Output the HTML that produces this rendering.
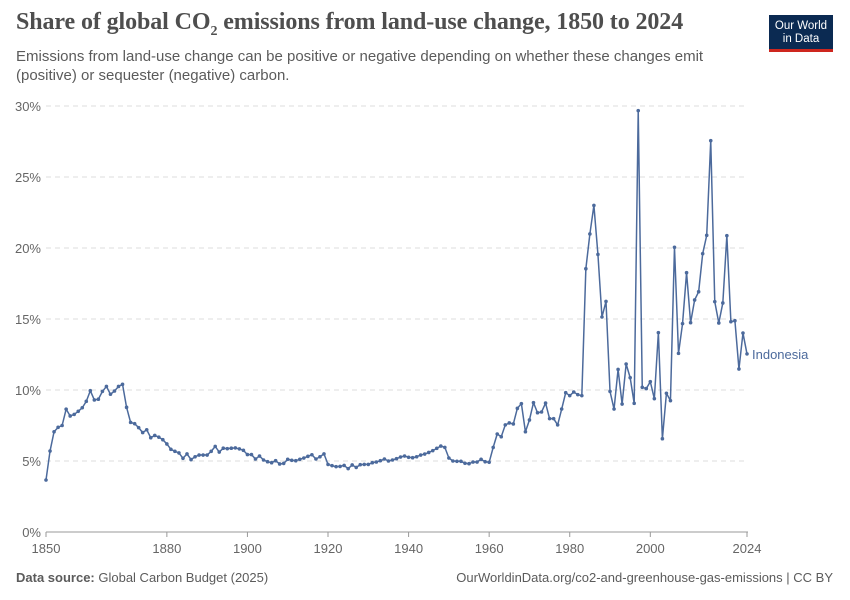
<!DOCTYPE html>
<html><head><meta charset="utf-8">
<style>
body{margin:0;background:#fff;width:850px;height:600px;overflow:hidden;font-family:"Liberation Sans",sans-serif}
#title{position:absolute;left:16px;top:9px;font-family:"Liberation Serif",serif;font-size:24px;color:#4e4e4e;margin:0;font-weight:bold;letter-spacing:-0.1px}
#sub{position:absolute;left:16px;top:47px;width:720px;font-size:15px;line-height:19px;color:#5b5b5b}
#logo{position:absolute;left:769px;top:15px;width:64px;height:37px;background:#0b2a52;color:#fff;font-size:11.5px;line-height:13px;text-align:center;box-sizing:border-box;padding-top:5px;border-bottom:3px solid #ce261e}
#footL{position:absolute;left:16px;top:570px;font-size:13px;color:#5b5b5b}
#footR{position:absolute;right:17px;top:570px;font-size:13px;color:#5b5b5b}
svg{position:absolute;left:0;top:0}
</style></head><body>
<h1 id="title">Share of global CO<sub style="font-size:14px">2</sub> emissions from land-use change, 1850 to 2024</h1>
<div id="sub">Emissions from land-use change can be positive or negative depending on whether these changes emit (positive) or sequester (negative) carbon.</div>
<div id="logo">Our World<br>in Data</div>
<svg id="chart" width="850" height="600"></svg>
<div id="footL"><b>Data source:</b> Global Carbon Budget (2025)</div>
<div id="footR">OurWorldinData.org/co2-and-greenhouse-gas-emissions | CC BY</div>
<script>
const startYear = 1850;
const indonesiaValues = [
3.66,5.7,7.06,7.37,7.5,8.65,8.17,8.28,8.5,8.75,
9.2,9.95,9.3,9.35,9.9,10.25,9.7,9.93,10.25,10.4,
8.78,7.72,7.63,7.35,7.0,7.2,6.64,6.8,6.68,6.5,
6.2,5.82,5.68,5.57,5.19,5.5,5.1,5.3,5.42,5.42,
5.42,5.68,6.03,5.63,5.9,5.87,5.9,5.92,5.85,5.75,
5.45,5.45,5.14,5.35,5.07,4.95,4.88,5.02,4.79,4.83,
5.12,5.05,5.02,5.12,5.21,5.33,5.44,5.14,5.3,5.5,
4.76,4.67,4.6,4.62,4.69,4.46,4.72,4.55,4.74,4.76,
4.76,4.88,4.93,5.02,5.14,5.0,5.07,5.16,5.28,5.35,
5.26,5.23,5.3,5.42,5.49,5.6,5.73,5.89,6.05,5.96,
5.21,5.0,4.98,4.98,4.84,4.81,4.93,4.93,5.12,4.95,
4.91,5.96,6.9,6.71,7.54,7.68,7.61,8.71,9.04,7.06,
7.89,9.11,8.4,8.45,9.08,7.98,7.98,7.54,8.66,9.81,
9.6,9.86,9.67,9.6,18.54,20.99,23.0,19.55,15.14,16.24,
9.9,8.66,11.45,9.01,11.83,10.87,9.06,29.67,10.19,10.1,
10.59,9.39,14.04,6.57,9.77,9.25,20.05,12.58,14.67,18.26,
14.74,16.34,16.92,19.6,20.89,27.56,16.22,14.72,16.13,20.87,
14.81,14.88,11.48,14.01,12.54];
const yTicks = [0,5,10,15,20,25,30];
const xTicks = [1850,1880,1900,1920,1940,1960,1980,2000,2024];

const NS="http://www.w3.org/2000/svg";
const svg=document.getElementById('chart');
const x0=46,x1=747,y0=532,y1=106;
const xs=y=>x0+(y-1850)/(2024-1850)*(x1-x0);
const ys=v=>y0-v/30*(y0-y1);
function mk(t,a){const e=document.createElementNS(NS,t);for(const k in a)e.setAttribute(k,a[k]);svg.appendChild(e);return e;}
yTicks.forEach(v=>{
  const l=mk('line',{x1:46,x2:748,y1:ys(v),y2:ys(v),stroke:v===0?'#999':'#ddd','stroke-dasharray':v===0?'':'5,4'});
  
  
  const t=mk('text',{x:41,y:ys(v)+5,'text-anchor':'end','font-size':13,fill:'#666','font-family':'Liberation Sans, sans-serif'});
  t.textContent=v+'%';
  
  
});
xTicks.forEach(y=>{
  const l=mk('line',{x1:xs(y),x2:xs(y),y1:532,y2:537,stroke:'#999'});
  
  
  const t=mk('text',{x:xs(y),y:553,'text-anchor':'middle','font-size':13,fill:'#666','font-family':'Liberation Sans, sans-serif'});
  t.textContent=y;
  
  
});
const pts=indonesiaValues.map((v,i)=>[xs(startYear+i),ys(v)]);
const p=mk('polyline',{points:pts.map(q=>q.join(',')).join(' '),fill:'none',stroke:'#4c6a9c','stroke-width':1.5,'stroke-linejoin':'round'});


pts.forEach(q=>{
  const c=mk('circle',{cx:q[0],cy:q[1],r:1.8,fill:'#4c6a9c'});
  
  
});
const last=pts[pts.length-1];
const lb=mk('text',{x:752,y:last[1]+5,'font-size':13,fill:'#4c6a9c','font-family':'Liberation Sans, sans-serif'});
lb.textContent='Indonesia';


</script>
</body></html>
